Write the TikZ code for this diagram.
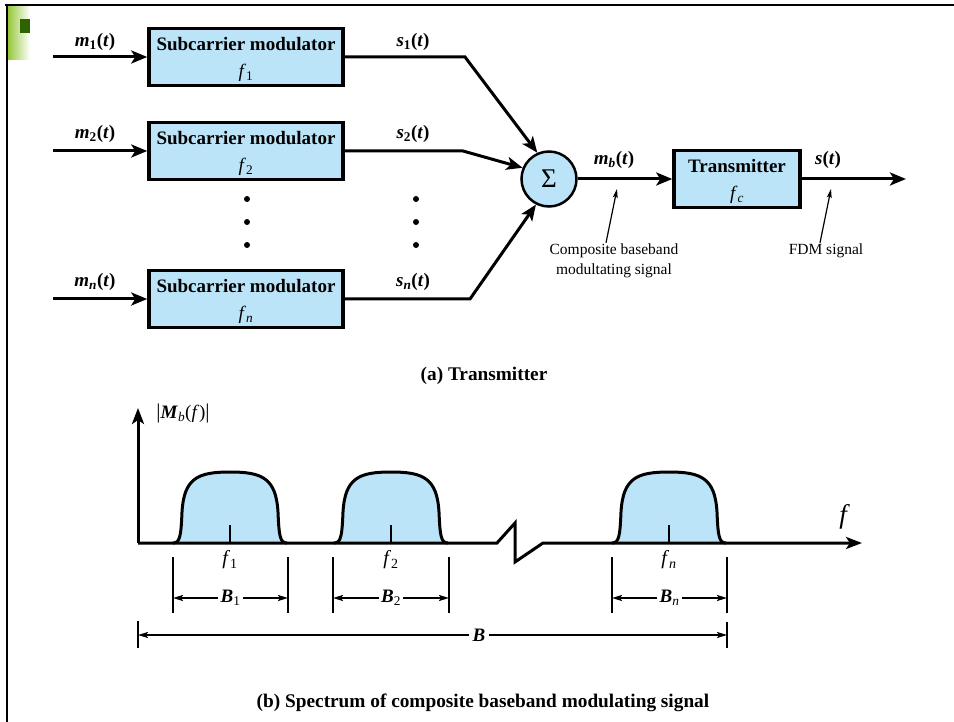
\documentclass[tikz,border=0pt]{standalone}
\usepackage{fontspec}
\setmainfont{Liberation Serif}
\usetikzlibrary{arrows.meta}

\definecolor{boxblue}{RGB}{187,228,248}
\definecolor{lgreen}{RGB}{150,200,60}
\definecolor{dgreen}{RGB}{45,100,0}

% signal label: bold italic letter, subscript, (t)
\newcommand{\siglab}[2]{{\bfseries\textit{#1}\textsubscript{#2}(\textit{t})}}
% strut that lowers a two-line box label a little
\newcommand{\topstrut}{\rule{0pt}{19pt}}

\begin{document}
\begin{tikzpicture}[x=1pt,y=-1pt,
  modbox/.style={draw, line width=3.5pt, fill=boxblue, minimum width=194pt,
    minimum height=57pt, inner sep=0pt, align=center,
    font=\fontsize{19}{27}\selectfont},
  sumnode/.style={circle, draw, line width=2.5pt, fill=boxblue, minimum size=55pt,
    inner sep=0pt, font=\fontsize{27}{27}\selectfont},
  lab/.style={font=\fontsize{19}{20}\selectfont, inner sep=1pt},
  freqlab/.style={font=\fontsize{20}{20}\selectfont, inner sep=1pt},
  note/.style={font=\fontsize{15.5}{20}\selectfont, align=center, inner sep=1pt},
  caption/.style={font=\fontsize{19.3}{20}\selectfont\bfseries, inner sep=1pt},
  sigline/.style={line width=3pt, line join=miter},
  sigarrow/.style={line width=3pt, -{Stealth[length=16pt,width=13pt,inset=4pt]}},
  thinarrow/.style={line width=1.2pt, -{Stealth[length=9pt,width=5pt,inset=2pt]}},
  axisline/.style={line width=3pt, line join=miter, -{Stealth[length=16pt,width=12pt,inset=4pt]}},
  dimtick/.style={line width=2pt},
  dimarrow/.style={line width=1.8pt, -{Stealth[length=10pt,width=6pt,inset=2pt]}},
  bigdim/.style={line width=1.5pt, -{Stealth[length=10pt,width=6pt,inset=2pt]}},
]
\useasboundingbox (0,0) rectangle (954,722);

% ---- page frame and corner mark
\draw[line width=2.5pt] (5,5) -- (954,5);
\draw[line width=2.5pt] (7,5) -- (7,722);
\shade[left color=lgreen, right color=white] (8,7) rectangle (30,60);
\fill[dgreen] (20,19) rectangle (30,33);

% ================= (a) Transmitter =================
\node[modbox] (sm1) at (246,57)  {\topstrut\textbf{Subcarrier modulator}\\\textit{f}\textsubscript{1}};
\node[modbox] (sm2) at (246,151) {\topstrut\textbf{Subcarrier modulator}\\\textit{f}\textsubscript{2}};
\node[modbox] (smn) at (246,299) {\topstrut\textbf{Subcarrier modulator}\\\textit{f}\textsubscript{\textit{n}}};

\node[sumnode] (sig) at (549,179) {Σ};

\node[modbox, minimum width=126pt] (tx) at (737,179)
  {\topstrut\textbf{Transmitter}\\\textit{f}\textsubscript{\textit{c}}};

% inputs
\coordinate (in1) at (53,57);
\coordinate (in2) at (53,151);
\coordinate (inn) at (53,299);
\draw[sigarrow] (in1) -- (sm1.west);
\draw[sigarrow] (in2) -- (sm2.west);
\draw[sigarrow] (inn) -- (smn.west);
\node[lab] at (95,42)  {\siglab{m}{1}};
\node[lab] at (95,134) {\siglab{m}{2}};
\node[lab] at (95,282) {\siglab{m}{\textit{n}}};

% subcarrier outputs into the summer
\coordinate (c1) at (465,57);
\coordinate (c2) at (463,151);
\coordinate (cn) at (470,299);
\draw[sigline, -{Stealth[length=16pt,width=13pt,inset=4pt]}] (sm1.east) -- (c1) -- (sig.114);
\draw[sigline, -{Stealth[length=16pt,width=13pt,inset=4pt]}] (sm2.east) -- (c2) -- (sig.157);
\draw[sigline, -{Stealth[length=16pt,width=13pt,inset=4pt]}] (smn.east) -- (cn) -- (sig.243);
\node[lab] at (413,42)  {\siglab{s}{1}};
\node[lab] at (413,134) {\siglab{s}{2}};
\node[lab] at (413,282) {\siglab{s}{\textit{n}}};

% ellipsis dots
\foreach \yy in {199,222,245} {
  \fill (247,\yy) circle[radius=3pt];
  \fill (416,\yy) circle[radius=3pt];
}

% summer to transmitter, transmitter output
\draw[sigarrow] (sig.east) -- (tx.west);
\coordinate (out) at (906,179);
\draw[sigarrow] (tx.east) -- (out);
\node[lab] at (614,160) {\siglab{m}{\textit{b}}};
\node[lab] at (828,160) {{\bfseries\textit{s}(\textit{t})}};

% annotations
\node[note] (comp) at (614,261) {Composite baseband\\modultating signal};
\coordinate (pmb) at (617,189);
\draw[thinarrow] ([xshift=-8pt]comp.north) -- (pmb);
\node[note] (fdm) at (826,251) {FDM signal};
\coordinate (pfdm) at (831,189);
\draw[thinarrow] ([xshift=-6pt]fdm.north) -- (pfdm);

\node[caption] (capa) at (484,376) {(a) Transmitter};

% ================= (b) Spectrum =================
\coordinate (orig) at (138,543);
\coordinate (ytop) at (138,408);
\coordinate (brk1) at (497,543);
\coordinate (brk2) at (515,523);
\coordinate (brk3) at (515,562);
\coordinate (brk4) at (543,543);
\coordinate (fend) at (862,543);

% spectral bumps
\foreach \c in {230,391,669} {
  \filldraw[fill=boxblue, line width=3pt]
    (\c-57,543) .. controls (\c-50,543) and (\c-49,536) .. (\c-48,512)
    .. controls (\c-46,478) and (\c-32,472) .. (\c,472)
    .. controls (\c+32,472) and (\c+46,478) .. (\c+48,512)
    .. controls (\c+49,536) and (\c+50,543) .. (\c+57,543);
  \draw[line width=1.8pt] (\c,525) -- (\c,543);
}

\draw[axisline] (orig) -- (ytop);
\draw[axisline] (orig) -- (brk1) -- (brk2) -- (brk3) -- (brk4) -- (fend);
\node[lab] at (183,413) {{\fontsize{21}{21}\selectfont|}\textbf{\textit{M}}\textsubscript{\textit{b}}(\textit{f}){\fontsize{21}{21}\selectfont|}};
\node[font=\fontsize{27}{27}\selectfont\itshape] at (843,517) {f};

\node[freqlab] at (230,560) {\textit{f}\textsubscript{1}};
\node[freqlab] at (391,560) {\textit{f}\textsubscript{2}};
\node[freqlab] at (669,560) {\textit{f}\textsubscript{\textit{n}}};

% bandwidth dimensions
\foreach \xl/\xr/\nm/\sub in {173/288/B1/1, 333/449/B2/2, 612/727/Bn/\textit{n}} {
  \draw[dimtick] (\xl,557) -- (\xl,613);
  \draw[dimtick] (\xr,557) -- (\xr,613);
  \coordinate (\nm l) at (\xl,598);
  \coordinate (\nm r) at (\xr,598);
  \node[lab, fill=white, inner sep=2pt] (\nm) at ({(\xl+\xr)/2},598) {\textbf{\textit{B}}\textsubscript{\sub}};
  \draw[dimarrow] (\nm.west) -- (\nm l);
  \draw[dimarrow] (\nm.east) -- (\nm r);
}

\draw[dimtick] (138,621) -- (138,648);
\draw[dimtick] (727,622) -- (727,648);
\coordinate (Bl) at (138,635);
\coordinate (Br) at (727,635);
\node[lab, inner sep=3pt] (Btot) at (479,635) {\textbf{\textit{B}}};
\draw[bigdim] (Btot.west) -- (Bl);
\draw[bigdim] (Btot.east) -- (Br);

\node[caption] (capb) at (483,703) {(b) Spectrum of composite baseband modulating signal};
\end{tikzpicture}
\end{document}
